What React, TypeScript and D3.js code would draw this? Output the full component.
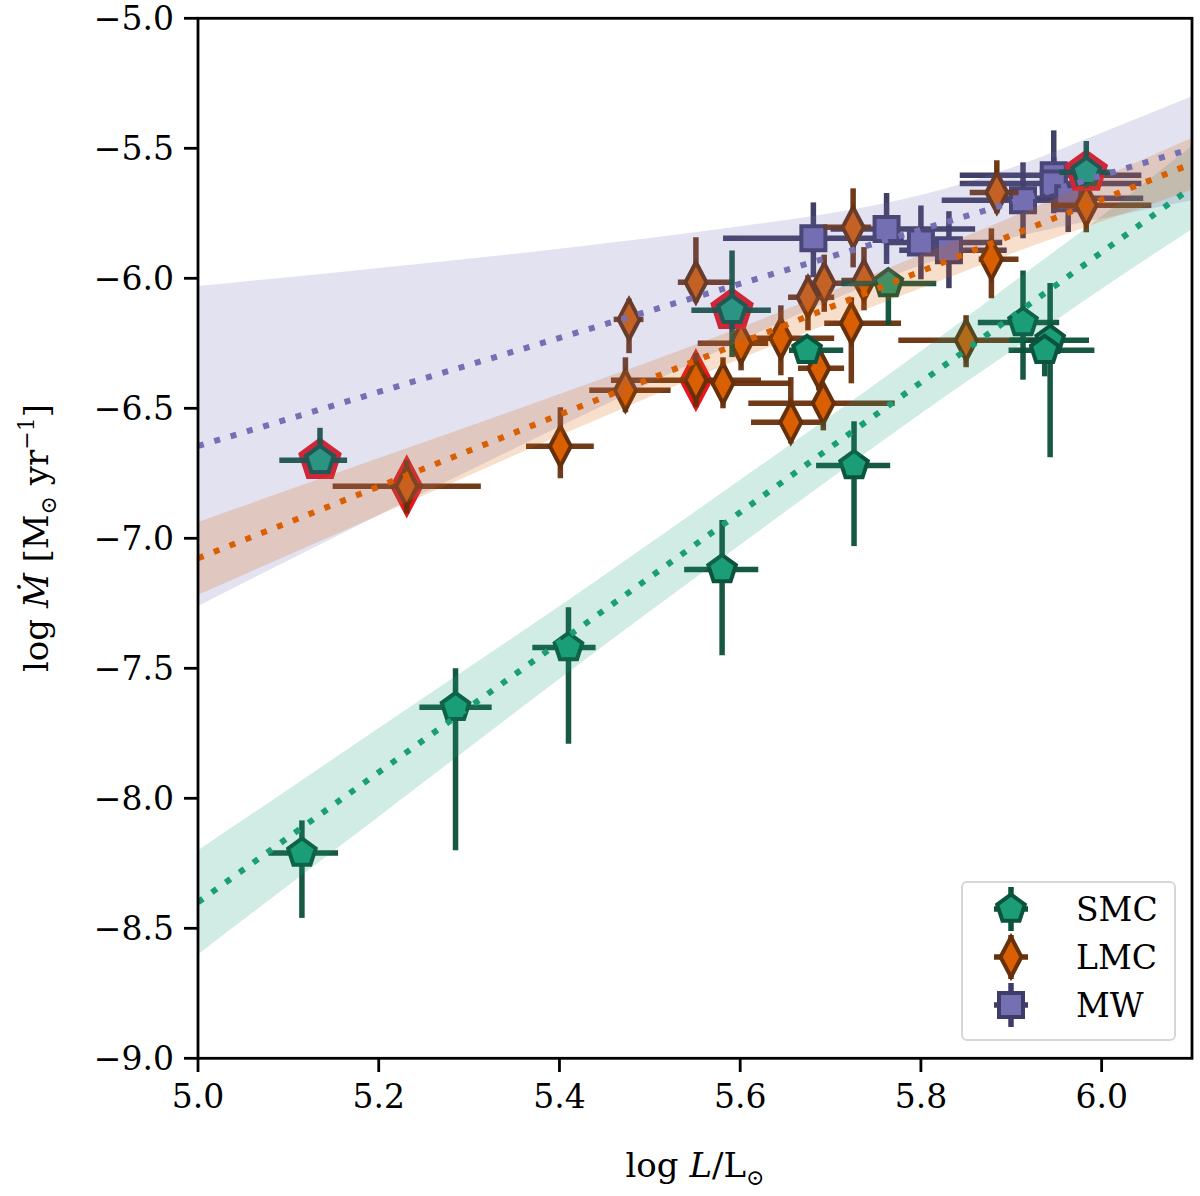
import * as d3 from 'd3';

// ---- data ----
// SMC (pentagons)
const smcLogL = [5.115, 5.285, 5.41, 5.58, 5.726, 5.135, 5.591, 5.674, 5.764, 5.913, 5.943, 5.937, 5.983];
const smcLErr = [[0.037, 0.04], [0.04, 0.04], [0.04, 0.03], [0.042, 0.04], [0.042, 0.04], [0.045, 0.03], [0.045, 0.043], [0.02, 0.04], [0.052, 0.053], [0.05, 0.04], [0.045, 0.043], [0.04, 0.055], [0.03, 0.03]];
const smcMdot = [-8.21, -7.65, -7.42, -7.12, -6.72, -6.70, -6.123, -6.277, -6.02, -6.17, -6.238, -6.277, -5.592];
const smcMdotErr = [[0.25, 0.125], [0.55, 0.15], [0.37, 0.155], [0.33, 0.19], [0.31, 0.17], [0.05, 0.125], [0.18, 0.23], [0.05, 0.05], [0.16, 0.05], [0.22, 0.2], [0.45, 0.22], [0.1, 0.05], [0.06, 0.12]];
const smcFlagged = [5, 6, 12];

// LMC (thin diamonds)
const lmcLogL = [5.231, 5.401, 5.477, 5.473, 5.551, 5.551, 5.581, 5.601, 5.645, 5.675, 5.693, 5.725, 5.737, 5.723, 5.687, 5.692, 5.656, 5.884, 5.878, 5.983, 5.85];
const lmcLErr = [[0.082, 0.082], [0.038, 0.037], [0.017, 0.016], [0.04, 0.05], [0.02, 0.042], [0.094, 0.072], [0.013, 0.075], [0.048, 0.03], [0.036, 0.059], [0.022, 0.029], [0.02, 0.025], [0.033, 0.02], [0.025, 0.038], [0.03, 0.055], [0.023, 0.028], [0.083, 0.079], [0.044, 0.034], [0.03, 0.024], [0.014, 0.03], [0.038, 0.072], [0.075, 0.09]];
const lmcMdot = [-6.80, -6.646, -6.158, -6.431, -6.015, -6.392, -6.404, -6.25, -6.231, -6.073, -6.019, -5.804, -6.008, -6.173, -6.346, -6.481, -6.554, -5.67, -5.927, -5.719, -6.238];
const lmcMdotErr = [[0.104, 0.1], [0.123, 0.15], [0.13, 0.08], [0.084, 0.127], [0.077, 0.173], [0.104, 0.104], [0.096, 0.1], [0.104, 0.05], [0.142, 0.127], [0.127, 0.085], [0.11, 0.11], [0.154, 0.15], [0.115, 0.128], [0.231, 0.1], [0.085, 0.081], [0.104, 0.062], [0.081, 0.174], [0.08, 0.124], [0.15, 0.119], [0.104, 0.077], [0.104, 0.096]];
const lmcFlagged = [0, 5];

// MW (squares)
const mwLogL = [5.681, 5.762, 5.80, 5.831, 5.913, 5.947, 5.947, 5.963];
const mwLErr = [[0.1, 0.1], [0.062, 0.098], [0.04, 0.09], [0.055, 0.064], [0.09, 0.07], [0.104, 0.097], [0.104, 0.097], [0.07, 0.083]];
const mwMdot = [-5.846, -5.81, -5.862, -5.892, -5.70, -5.604, -5.635, -5.692];
const mwMdotErr = [[0.15, 0.138], [0.135, 0.138], [0.142, 0.142], [0.146, 0.15], [0.146, 0.146], [0.146, 0.173], [0.1, 0.1], [0.13, 0.03]];
const mwFlagged: number[] = [];

// fitted relations (end points) and their uncertainty bands
const fitX = [5.0, 6.1];
const smcFit = [-8.40, -5.65];
const lmcFit = [-7.077, -5.559];
const mwFit = [-6.645, -5.501];

const bandX = [5.0, 5.2, 5.4, 5.6, 5.7, 5.8, 5.9, 6.0, 6.1];
const smcBandLo = [-8.60, -8.07, -7.54, -7.025, -6.77, -6.52, -6.28, -6.04, -5.81];
const smcBandHi = [-8.20, -7.73, -7.26, -6.775, -6.53, -6.28, -6.02, -5.76, -5.49];
const lmcBandLo = [-7.217, -6.911, -6.605, -6.309, -6.171, -6.038, -5.905, -5.782, -5.659];
const lmcBandHi = [-6.937, -6.691, -6.445, -6.189, -6.051, -5.908, -5.765, -5.612, -5.459];
const mwBandLo = [-7.26, -6.91, -6.57, -6.24, -6.085, -5.95, -5.845, -5.77, -5.70];
const mwBandHi = [-6.03, -5.96, -5.886, -5.80, -5.75, -5.68, -5.575, -5.44, -5.30];

const yTicks = [-9.0, -8.5, -8.0, -7.5, -7.0, -6.5, -6.0, -5.5, -5.0];
const xTicks = [5.0, 5.2, 5.4, 5.6, 5.8, 6.0];

// ---- layout ----
const W = 1200;
const H = 1196;
const x = d3.scaleLinear().domain([5.0, 6.1]).range([198, 1192]);
const y = d3.scaleLinear().domain([-9, -5]).range([1058.3, 18.3]);
const FONT = "'DejaVu Serif', 'Liberation Serif', serif";

type Shape = 'pentagon' | 'diamond' | 'square';

function shapePath(shape: Shape, s = 1) {
  if (shape === 'pentagon') {
    const r = 14.5 * s;
    const pts = d3.range(5).map(k => {
      const a = -Math.PI / 2 + (k * 2 * Math.PI) / 5;
      return [r * Math.cos(a), r * Math.sin(a)];
    });
    return 'M' + pts.map(p => p.join(',')).join('L') + 'Z';
  }
  if (shape === 'diamond') {
    const w = 10.5 * s, h = 20 * s;
    return `M0,${-h}L${w},0L0,${h}L${-w},0Z`;
  }
  const a = 12 * s;
  return `M${-a},${-a}L${a},${-a}L${a},${a}L${-a},${a}Z`;
}

interface Series {
  name: string;
  shape: Shape;
  fill: string;
  edge: string;
  bar: string;
  logL: number[];
  lErr: number[][];
  mdot: number[];
  mErr: number[][];
  flagged: number[];
}

const series: Series[] = [
  { name: 'MW', shape: 'square', fill: '#7570b3', edge: '#403c6a', bar: '#38355c', logL: mwLogL, lErr: mwLErr, mdot: mwMdot, mErr: mwMdotErr, flagged: mwFlagged },
  { name: 'LMC', shape: 'diamond', fill: '#d95f02', edge: '#66300b', bar: '#6a300c', logL: lmcLogL, lErr: lmcLErr, mdot: lmcMdot, mErr: lmcMdotErr, flagged: lmcFlagged },
  { name: 'SMC', shape: 'pentagon', fill: '#1b9e77', edge: '#0c533d', bar: '#0b5039', logL: smcLogL, lErr: smcLErr, mdot: smcMdot, mErr: smcMdotErr, flagged: smcFlagged },
];

const bands = [
  { lo: smcBandLo, hi: smcBandHi, color: '#1b9e77' },
  { lo: mwBandLo, hi: mwBandHi, color: '#7570b3' },
  { lo: lmcBandLo, hi: lmcBandHi, color: '#d95f02' },
];

const fits = [
  { v: mwFit, color: '#7570b3' },
  { v: lmcFit, color: '#d95f02' },
  { v: smcFit, color: '#1b9e77' },
];

const legendItems = [series[2], series[1], series[0]];

export default function App() {
  const area = d3.area<number>()
    .x(d => x(bandX[d]))
    .curve(d3.curveMonotoneX);

  return (
    <svg width={W} height={H} style={{ position: 'absolute', left: 0, top: 0, background: '#fff' }}
      fontFamily={FONT}>
      <defs>
        <clipPath id="plot">
          <rect x={198} y={18.3} width={994} height={1040} />
        </clipPath>
      </defs>

      <g clipPath="url(#plot)">
        {/* data points: red underlay, error bars, markers */}
        {series.map(s => (
          <g key={s.name}>
            {s.flagged.map(i => (
              <path key={'r' + i} d={shapePath(s.shape, 1.5)}
                transform={`translate(${x(s.logL[i])},${y(s.mdot[i])})`}
                fill="#e8141c" stroke="#e8141c" strokeWidth={2} />
            ))}
            {s.logL.map((l, i) => (
              <g key={'e' + i} stroke={s.bar} strokeWidth={5.5} opacity={0.95}>
                <line x1={x(l - s.lErr[i][0])} x2={x(l + s.lErr[i][1])}
                  y1={y(s.mdot[i])} y2={y(s.mdot[i])} />
                <line x1={x(l)} x2={x(l)}
                  y1={y(s.mdot[i] - s.mErr[i][0])} y2={y(s.mdot[i] + s.mErr[i][1])} />
              </g>
            ))}
            {s.logL.map((l, i) => (
              <path key={'m' + i} d={shapePath(s.shape)}
                transform={`translate(${x(l)},${y(s.mdot[i])})`}
                fill={s.fill} stroke={s.edge} strokeWidth={4} strokeLinejoin="miter" />
            ))}
          </g>
        ))}

        {/* uncertainty bands */}
        {bands.map((b, k) => (
          <path key={k}
            d={area.y0(i => y(b.lo[i])).y1(i => y(b.hi[i]))(d3.range(bandX.length)) || ''}
            fill={b.color} fillOpacity={0.2} />
        ))}

        {/* fitted relations */}
        {fits.map((f, k) => (
          <line key={k} x1={x(fitX[0])} y1={y(f.v[0])} x2={x(fitX[1])} y2={y(f.v[1])}
            stroke={f.color} strokeWidth={6} strokeDasharray="6 11" />
        ))}
      </g>

      {/* frame */}
      <rect x={198} y={18.3} width={994} height={1040} fill="none" stroke="#000" strokeWidth={2.8} />

      {/* y axis */}
      {yTicks.map(t => (
        <g key={t}>
          <line x1={184} x2={198} y1={y(t)} y2={y(t)} stroke="#000" strokeWidth={2.8} />
          <text x={174} y={y(t)} dy="0.36em" textAnchor="end" fontSize={33}>
            {'\u2212' + Math.abs(t).toFixed(1)}
          </text>
        </g>
      ))}

      {/* x axis */}
      {xTicks.map(t => (
        <g key={t}>
          <line x1={x(t)} x2={x(t)} y1={1058.3} y2={1072} stroke="#000" strokeWidth={2.8} />
          <text x={x(t)} y={1108} textAnchor="middle" fontSize={33}>{t.toFixed(1)}</text>
        </g>
      ))}

      {/* axis labels */}
      <text x={695} y={1177} textAnchor="middle" fontSize={34}>
        log <tspan fontStyle="italic">L</tspan>/L<tspan fontSize={22} dy={8}>{'\u2299'}</tspan>
      </text>
      <text transform="translate(48,538) rotate(-90)" textAnchor="middle" fontSize={34}>
        log <tspan fontStyle="italic">{'\u1E40'}</tspan> [M<tspan fontSize={22} dy={8}>{'\u2299'}</tspan>
        <tspan dy={-8}> yr</tspan><tspan fontSize={22} dy={-14}>{'\u22121'}</tspan><tspan dy={14}>]</tspan>
      </text>

      {/* legend */}
      <rect x={962} y={882} width={213} height={158} rx={5} fill="#fff" fillOpacity={0.8}
        stroke="#d6d6d6" strokeWidth={2} />
      {legendItems.map((s, k) => {
        const cy = 909 + k * 48;
        return (
          <g key={s.name}>
            <g stroke={s.edge} strokeWidth={5.5}>
              <line x1={994} x2={1028} y1={cy} y2={cy} />
              <line x1={1011} x2={1011} y1={cy - 22} y2={cy + 22} />
            </g>
            <path d={shapePath(s.shape)} transform={`translate(1011,${cy})`}
              fill={s.fill} stroke={s.edge} strokeWidth={4} />
            <text x={1076} y={cy} dy="0.36em" fontSize={33}>{s.name}</text>
          </g>
        );
      })}
    </svg>
  );
}
